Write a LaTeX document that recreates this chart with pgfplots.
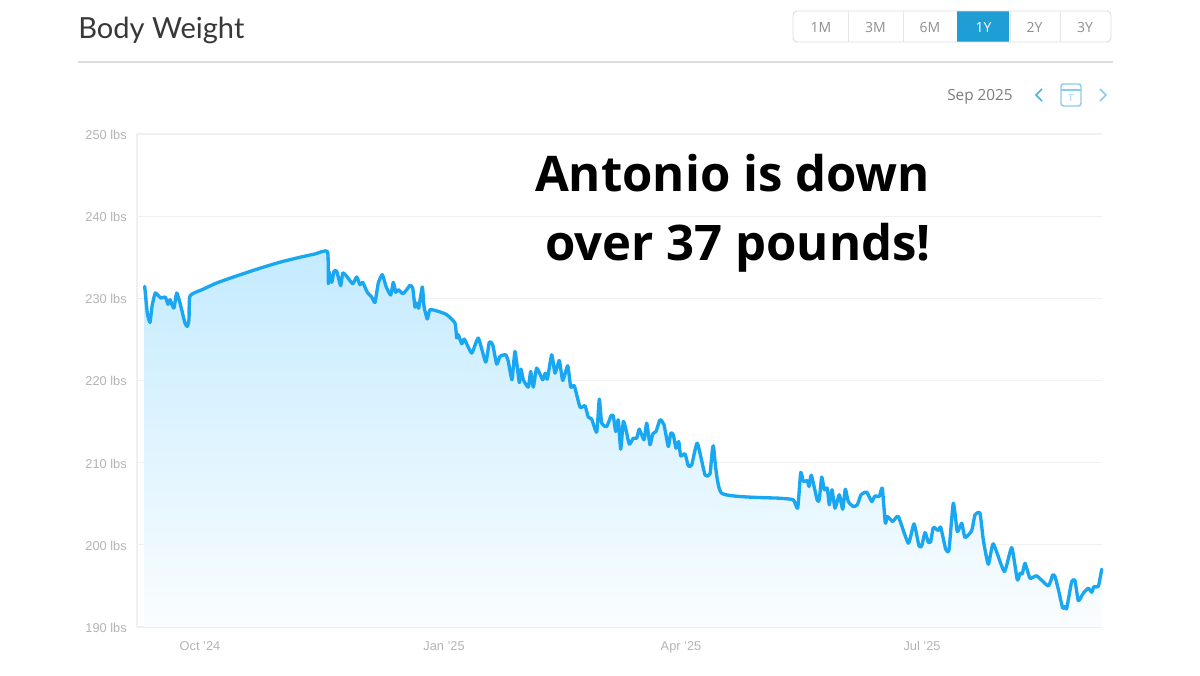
\documentclass[border=0pt]{standalone}
\usepackage{pgfplots}
\pgfplotsset{compat=1.18}
\usepackage{fontspec}
\setmainfont{Liberation Sans}
\newfontfamily\titlefont{Lato}
\newfontfamily\uifont{Open Sans}
\newfontfamily\bigfont[BoldFont={Open Sans Bold}]{Open Sans}
\definecolor{wline}{HTML}{1AA7F2}
\definecolor{ftop}{HTML}{C4EBFF}
\definecolor{fbot}{HTML}{FAFDFF}
\definecolor{gridc}{HTML}{F0F0F0}
\definecolor{tickc}{HTML}{B4B4B4}
\definecolor{uic}{HTML}{7C7C7C}
\definecolor{act}{HTML}{1F9ED6}
\definecolor{bord}{HTML}{DDDDDD}
\definecolor{iconc}{HTML}{8CCBEE}
\pgfplotstableread{
x y
144.7 231.46
147.3 228.21
150 227.07
152 229.02
155.3 230.65
160.7 230.04
165.3 230.16
168 229.27
170 229.84
172 229.23
174 228.82
176.7 230.65
180 229.43
185 226.99
187.3 226.59
189 227.4
190 230.3
203 231.1
216.7 231.87
235 232.66
258.3 233.6
280 234.4
300 235.0
315 235.4
327.5 235.69
328.3 231.8
328.8 233.29
331.7 231.95
334 233.29
336.7 233.29
340.7 231.54
342.7 233.08
346.7 232.68
352.7 231.78
356.7 232.6
360 231.66
362.7 231.95
367.3 230.73
371.7 230.16
375 229.51
378.3 231.87
382.3 232.88
386 231.46
390.7 230.4
393.3 231.95
395.7 230.73
398.3 231.05
402.7 230.57
406.7 231.05
410 231.58
412.7 231.26
415 228.94
416.7 229.43
418.7 228.82
422.3 231.38
424 229.02
427.3 227.48
430 228.62
438.3 228.41
446.7 228.01
455 226.99
456.7 225.17
458.3 225.57
461.7 224.47
464.3 225.04
471.7 223.34
478.3 225.16
485.7 222.24
489.3 224.68
492.7 224.35
496.7 221.99
500 222.93
505.7 223.13
508.3 222.32
512 220.09
515 223.54
519.3 219.76
521 221.39
523.3 220.09
528.3 219.2
530.7 221.1
533.3 219.2
536.7 221.51
542.7 220.09
545.3 220.9
547.3 220.17
551.7 223.13
555 220.9
559.3 222.44
562.7 220.01
567.7 221.79
570.7 219.2
574.3 219.36
580 216.76
585 216.92
588.3 215.54
591.7 215.3
596.7 213.71
599.3 217.73
601.7 214.81
606.7 214.4
611 215.7
613.3 215.7
615.7 213.79
618.3 215.22
620.7 211.64
623.3 215.01
626 214
629.3 212.25
633.3 212.98
636.7 212.98
639.3 214.08
644 212.78
646.7 214.81
650 212.17
652.7 213.51
656 213.79
660 215.22
664 214.61
668.3 211.97
670.7 213.59
673.3 213.39
676 211.76
678.7 212.58
680.7 210.83
685 211.07
688.3 209.61
691.7 209.73
697.3 212.37
705 208.51
710 208.64
713.3 212.05
721.7 206.28
780 205.67
793.3 205.48
797.7 204.46
800.7 208.81
803.3 207.71
807.3 207.83
809 207.1
811.3 208.48
817.3 205.4
819.3 205.56
821.7 208.24
824.3 206.7
827.3 206.9
829.3 204.87
832 206.7
835 204.46
839.3 206.09
842.7 204.34
845.3 206.78
848.3 205.27
853.3 204.66
857.3 204.87
861 206.09
866.7 206.41
871.7 205.27
875 205.96
879.3 205.88
882.3 206.9
885.3 202.63
887.3 203.45
892.7 202.84
898.3 203.45
908.3 200.2
914 202.55
919 199.87
921.7 199.87
925 201.5
928.3 200.32
930.7 200.4
933.3 202.11
938.3 201.74
940.7 202.15
945.7 199.47
949 199.39
953.3 205.07
957.3 201.62
961.7 202.63
965 200.89
971.7 201.74
975 203.65
980 203.85
983.3 200.6
988.3 197.64
993.3 200.12
1004.3 196.75
1011.7 199.67
1017.3 195.73
1020 196.54
1022.3 196.46
1025 197.76
1030 195.93
1036.7 196.22
1048.3 195
1052.7 196.34
1055 196.14
1058.3 194.59
1062.7 192.28
1064.7 192.48
1066.7 192.28
1071.7 195.53
1075 195.65
1078.3 193.21
1083.3 194.11
1088.3 194.72
1091.7 194.23
1094 194.92
1098.3 194.92
1101.7 197.03
}\weight
\begin{document}
\begin{tikzpicture}
\useasboundingbox (0pt,0pt) rectangle (900pt,506.25pt);
\fill[white] (0pt,0pt) rectangle (900pt,506.25pt);
\begin{axis}[
  at={(102.75pt,36pt)},anchor=south west,
  scale only axis,width=723.75pt,height=369.75pt,
  xmin=137,xmax=1102,ymin=190,ymax=250,
  xtick={200,444,681,922},
  xticklabels={Oct '24,Jan '25,Apr '25,Jul '25},
  ytick={190,200,210,220,230,240,250},
  yticklabels={190 lbs,200 lbs,210 lbs,220 lbs,230 lbs,240 lbs,250 lbs},
  ymajorgrids,
  major grid style={gridc,line width=0.8pt},
  major tick length=0pt,
  axis x line*=bottom,axis y line*=left,
  axis line style={-,draw=gridc,line width=0.8pt},
  tick style={draw=none},
  ticklabel style={font=\fontsize{9.6}{11}\selectfont,text=tickc},
  yticklabel style={inner sep=0pt,xshift=-7.5pt,yshift=-0.6pt},
  xticklabel style={inner sep=0pt,yshift=-10.5pt,text height=7pt,text depth=2pt},
  clip=false,
]
\addplot[draw=none,top color=ftop,bottom color=fbot] table[x=x,y=y]{\weight} \closedcycle;
\addplot[wline,line width=2.5pt,line join=round,line cap=round,smooth,tension=0.3] table[x=x,y=y]{\weight};
\end{axis}
\begin{scope}[x=0.75pt,y=0.75pt]
% header
\node[anchor=west,inner sep=0pt,text=black!78,font=\titlefont\fontsize{21.8}{25}\selectfont] at (78,645) {Body Weight};
\draw[bord,line width=0.9pt] (78,613) -- (1113,613);
% period buttons
\fill[act] (957,633) rectangle (1009,664);
\draw[bord,line width=0.7pt,rounded corners=3pt] (793,633) rectangle (1111,664);
\foreach \xx in {848,903,1010,1060} \draw[bord!70,line width=0.7pt] (\xx,633) -- (\xx,664);
\foreach \xx/\lab in {821/1M,875.5/3M,930/6M,1034.5/2Y,1085/3Y}
  \node[text=uic!85,font=\uifont\fontsize{10.5}{12}\selectfont,inner sep=0pt] at (\xx,647.5) {\lab};
\node[text=white,font=\uifont\fontsize{10.5}{12}\selectfont,inner sep=0pt] at (983.5,647.5) {1Y};
% month selector
\node[text=uic,font=\uifont\fontsize{11.5}{12}\selectfont,anchor=east,inner sep=0pt] at (1013,578.5) {Sep 2025};
\draw[act!80,line width=1.2pt] (1042,586) -- (1036,580) -- (1042,574);
\draw[iconc,line width=1.2pt] (1100,586) -- (1106,580) -- (1100,574);
\draw[iconc,line width=1.1pt,rounded corners=2pt] (1061,569) rectangle (1081,591);
\draw[iconc,line width=1.1pt] (1061,585) -- (1081,585);
\node[text=iconc,font=\uifont\fontsize{7}{8}\selectfont,inner sep=0pt] at (1071,577) {T};
% annotation
\node[font=\bigfont\bfseries\fontsize{36.8}{40}\selectfont,text=black,inner sep=0pt] at (732.5,501.5) {Antonio is down};
\node[font=\bigfont\bfseries\fontsize{36.8}{40}\selectfont,text=black,inner sep=0pt] at (738,427) {over 37 pounds!};
\end{scope}
\end{tikzpicture}
\end{document}
